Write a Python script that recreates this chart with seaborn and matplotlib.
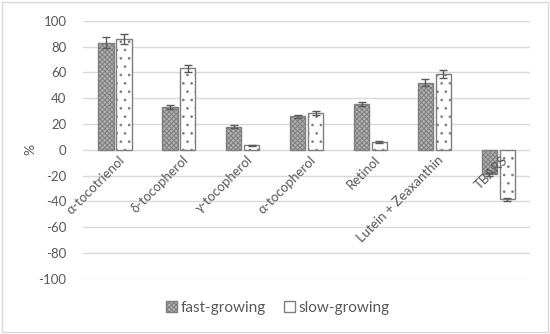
import pandas as pd
import matplotlib
matplotlib.use('Agg')
import matplotlib.pyplot as plt
import matplotlib.patches as mpatches
import seaborn as sns

# Veriler
kategoriler = ['α-tocotrienol', 'δ-tocopherol', 'γ-tocopherol', 'α-tocopherol',
               'Retinol', 'Lutein + Zeaxanthin', 'TBARS']
fast = [83, 33, 18, 26, 35.5, 52, -19]
fast_err = [4, 1.5, 1, 1.2, 1.8, 2.5, 1]
slow = [86, 63, 3.5, 28.5, 6, 59, -38.5]
slow_err = [4, 2.8, 0.4, 1.5, 0.5, 3, 1.5]
gruplar = ['fast-growing', 'slow-growing']

df = pd.DataFrame({
    'kategori': kategoriler * 2,
    'grup': [gruplar[0]] * len(kategoriler) + [gruplar[1]] * len(kategoriler),
    'deger': fast + slow,
})

sns.set_style('white')
plt.rcParams['font.family'] = ['Lato', 'DejaVu Sans']
plt.rcParams['hatch.linewidth'] = 0.7
plt.rcParams['axes.unicode_minus'] = False

fig = plt.figure(figsize=(5.5, 3.34), dpi=100)
ax = fig.add_axes([0.151, 0.165, 0.813, 0.773])

sns.barplot(data=df, x='kategori', y='deger', hue='grup', order=kategoriler,
            hue_order=gruplar, errorbar=None, width=0.56, gap=0.15,
            palette=['#b0b0b0', 'white'], edgecolor='#7f7f7f', linewidth=1,
            legend=False, ax=ax)

# Desenler ve hata çubukları
n = len(kategoriler)
for i, p in enumerate(ax.patches[:2 * n]):
    if i < n:
        p.set_hatch('xxxxxxx')
        err = fast_err[i]
    else:
        p.set_hatch('..')
        err = slow_err[i - n]
    x = p.get_x() + p.get_width() / 2
    y = p.get_y() + p.get_height()
    ax.errorbar(x, y, yerr=err, color='#595959', capsize=3, capthick=1,
                elinewidth=1, zorder=4)

ax.set_ylim(-100, 100)
ax.set_yticks(range(-100, 101, 20))
ax.yaxis.grid(True, color='#d9d9d9', linewidth=1)
ax.set_axisbelow(True)
for s in ax.spines.values():
    s.set_visible(False)
ax.tick_params(axis='y', length=0, labelsize=9.5, labelcolor='#595959', pad=12)
ax.set_xticks([])
ax.set_xlabel('')
ax.set_ylabel('%', fontsize=10, color='#595959')
ax.yaxis.set_label_coords(-0.105, 0.5)
ax.set_xlim(-0.5, n - 0.5)

# Kategori etiketleri (eksen 0 çizgisinde)
for i, k in enumerate(kategoriler):
    ax.text(i + 0.05, -3, k, rotation=45, ha='right', va='top',
            rotation_mode='anchor', fontsize=9.5, color='#595959', zorder=5)

handles = [mpatches.Patch(facecolor='#b0b0b0', edgecolor='#7f7f7f', hatch='xxxxxxx'),
           mpatches.Patch(facecolor='white', edgecolor='#7f7f7f')]
fig.legend(handles, gruplar, loc='center', bbox_to_anchor=(0.505, 0.078), ncol=2,
           frameon=False, fontsize=11, labelcolor='#595959', handlelength=0.7,
           handleheight=0.7, handletextpad=0.25, columnspacing=1.2)

fig.patches.append(mpatches.Rectangle((0.004, 0.006), 0.992, 0.988, transform=fig.transFigure,
                                      fill=False, edgecolor='#d9d9d9', linewidth=1))

plt.savefig('out.png', dpi=100)
